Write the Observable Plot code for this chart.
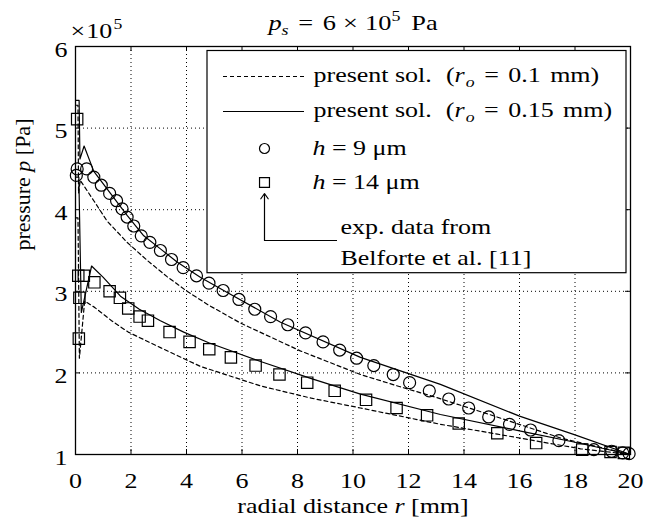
<!DOCTYPE html>
<html><head><meta charset="utf-8">
<script src="https://cdn.jsdelivr.net/npm/d3@7"></script>
<script src="https://cdn.jsdelivr.net/npm/@observablehq/plot@0.6"></script>
<style>
body{margin:0;background:#fff}
svg{display:block}
#chart text{font-family:"Liberation Serif","Times New Roman",Times,serif}
</style>
</head><body><div id="chart"></div>
<script>
// ---- data ----
const xTicks = [0, 2, 4, 6, 8, 10, 12, 14, 16, 18, 20];
const yTicks = [1, 2, 3, 4, 5, 6];

// present solution, r_o = 0.15 mm (solid), h = 9 um
const rSolid9 = [0, 0.13, 0.16, 0.31, 0.66, 1.26, 1.86, 2.46, 3.06, 3.66, 4.51, 5.5, 7.39, 10.27, 13.15, 16.0, 18.0, 20];
const pSolid9 = [5.34, 5.34, 4.62, 4.78, 4.47, 4.20, 3.93, 3.68, 3.52, 3.36, 3.17, 2.98, 2.62, 2.19, 1.86, 1.47, 1.24, 1.0];
// present solution, r_o = 0.15 mm (solid), h = 14 um
const rSolid14 = [0, 0.12, 0.21, 0.58, 1.0, 1.62, 2.3, 3.06, 3.9, 4.8, 6.67, 8.5, 10.27, 13.15, 16.0, 18.0, 20];
const pSolid14 = [4.4, 4.4, 2.74, 3.31, 3.17, 2.94, 2.78, 2.64, 2.50, 2.37, 2.14, 1.93, 1.74, 1.49, 1.29, 1.15, 1.0];
// present solution, r_o = 0.1 mm (dashed), h = 9 um
const rDash9 = [0, 0.09, 0.11, 0.17, 0.66, 1.14, 1.86, 2.58, 3.30, 4.02, 4.8, 5.95, 8.1, 10.27, 11.7, 12.9, 14.83, 17.5, 20];
const pDash9 = [5.28, 5.28, 4.2, 4.36, 4.11, 3.86, 3.60, 3.38, 3.18, 3.00, 2.83, 2.61, 2.27, 1.98, 1.83, 1.71, 1.50, 1.20, 1.0];
// present solution, r_o = 0.1 mm (dashed), h = 14 um
const rDash14 = [0, 0.09, 0.14, 0.33, 0.7, 1.3, 1.9, 3.06, 4.5, 6.67, 8.5, 10.27, 13.15, 15.2, 18.2, 20];
const pDash14 = [3.9, 3.9, 2.18, 2.88, 2.80, 2.64, 2.50, 2.31, 2.08, 1.84, 1.69, 1.57, 1.37, 1.25, 1.07, 1.0];

// experimental data, h = 9 um (circles)
const rExp9 = [0.03, 0.06, 0.40, 0.66, 0.93, 1.23, 1.48, 1.68, 1.86, 2.10, 2.37, 2.68, 3.06, 3.46, 3.88, 4.36, 4.81, 5.32, 5.89, 6.46, 7.03, 7.65, 8.29, 8.92, 9.52, 10.13, 10.75, 11.45, 12.04, 12.75, 13.45, 14.17, 14.89, 15.64, 16.40, 17.42, 18.68, 19.32, 19.72, 19.95];
const pExp9 = [4.42, 4.50, 4.50, 4.40, 4.30, 4.20, 4.11, 4.01, 3.91, 3.80, 3.68, 3.60, 3.50, 3.39, 3.29, 3.19, 3.10, 3.01, 2.90, 2.78, 2.69, 2.59, 2.49, 2.38, 2.28, 2.18, 2.09, 1.98, 1.88, 1.78, 1.68, 1.57, 1.46, 1.37, 1.30, 1.17, 1.06, 1.04, 1.02, 1.01];
// experimental data, h = 14 um (squares)
const rExp14 = [0.06, 0.10, 0.12, 0.14, 0.30, 0.68, 1.23, 1.60, 1.90, 2.31, 2.61, 3.39, 4.11, 4.82, 5.60, 6.49, 7.35, 8.35, 9.34, 10.47, 11.57, 12.67, 13.81, 15.20, 16.60, 18.26, 19.28, 19.76];
const pExp14 = [5.11, 3.19, 2.42, 2.92, 3.19, 3.11, 3.00, 2.92, 2.79, 2.69, 2.64, 2.50, 2.38, 2.29, 2.19, 2.09, 1.98, 1.88, 1.78, 1.67, 1.57, 1.48, 1.38, 1.26, 1.14, 1.06, 1.03, 1.02];

// texts
const titleText = "ps = 6 × 105 Pa";
const expText = "×105";
const xLabel = "radial distance r [mm]";
const yLabel = "pressure p [Pa]";
const legendLabels = ["present sol. (ro = 0.1 mm)", "present sol. (ro = 0.15 mm)", "h = 9 μm", "h = 14 μm", "exp. data from", "Belforte et al. [11]"];

const it = s => `<tspan font-style="italic">${s}</tspan>`;
const roPart = v => `present sol.<tspan dx="12">(</tspan>${it("r")}<tspan font-style="italic" font-size="15" dy="5" dx="1">o</tspan><tspan dy="-5" dx="8">=</tspan><tspan dx="8">${v}</tspan><tspan dx="8">mm)</tspan>`;
const rich = {
  [titleText]: `${it("p")}<tspan font-style="italic" font-size="15" dy="5">s</tspan><tspan dy="-5" dx="8">=</tspan><tspan dx="8">6</tspan><tspan dx="6">×</tspan><tspan dx="6">10</tspan><tspan font-size="15" dy="-9">5</tspan><tspan dy="9" dx="9">Pa</tspan>`,
  [expText]: '×<tspan dx="1">10</tspan><tspan font-size="15" dy="-9" dx="1">5</tspan>',
  [xLabel]: `radial distance ${it("r")} [mm]`,
  [yLabel]: `pressure ${it("p")} [Pa]`,
  [legendLabels[0]]: roPart("0.1"),
  [legendLabels[1]]: roPart("0.15"),
  [legendLabels[2]]: `${it("h")} = 9 μm`,
  [legendLabels[3]]: `${it("h")} = 14 μm`
};

// ---- layout ----
const W = 660, H = 525, ML = 75, MR = 30, MT = 46, MB = 71;
const FS = 22;          // glyph height
const STRETCH = 1.18;   // reference text is wider than it is tall
const mmPerPx = 20 / (W - ML - MR);
const pPerPx = 5 / (H - MT - MB);
const X = px => (px - ML) * mmPerPx;      // pixel -> data (annotation layout)
const Y = py => 6 - (py - MT) * pPerPx;

const rows = (rs, ps) => rs.map((r, i) => ({r, p: ps[i]}));
const gridX = xTicks.slice(1, -1), gridY = yTicks.slice(1, -1);
const tl = 5;
const txt = {fontSize: FS, fill: "black"};

const chart = Plot.plot({
  width: W, height: H,
  marginLeft: ML, marginRight: MR, marginTop: MT, marginBottom: MB,
  x: {domain: [0, 20], axis: null},
  y: {domain: [1, 6], axis: null},
  style: {background: "white", overflow: "visible", fontFamily: "Liberation Serif"},
  marks: [
    // grid
    Plot.ruleX(gridX, {x: d => d, stroke: "black", strokeWidth: 1, strokeDasharray: "1,3"}),
    Plot.ruleY(gridY, {y: d => d, stroke: "black", strokeWidth: 1, strokeDasharray: "1,3"}),
    // inward ticks
    Plot.ruleX(xTicks, {x: d => d, y1: 1, y2: 1 + tl * pPerPx, stroke: "black"}),
    Plot.ruleX(xTicks, {x: d => d, y1: 6, y2: 6 - tl * pPerPx, stroke: "black"}),
    Plot.ruleY(yTicks, {y: d => d, x1: 0, x2: tl * mmPerPx, stroke: "black"}),
    Plot.ruleY(yTicks, {y: d => d, x1: 20, x2: 20 - tl * mmPerPx, stroke: "black"}),
    // curves
    Plot.line(rows(rDash9, pDash9), {x: "r", y: "p", stroke: "black", strokeWidth: 1.2, strokeDasharray: "4,3"}),
    Plot.line(rows(rDash14, pDash14), {x: "r", y: "p", stroke: "black", strokeWidth: 1.2, strokeDasharray: "4,3"}),
    Plot.line(rows(rSolid9, pSolid9), {x: "r", y: "p", stroke: "black", strokeWidth: 1.2}),
    Plot.line(rows(rSolid14, pSolid14), {x: "r", y: "p", stroke: "black", strokeWidth: 1.2}),
    // experimental points
    Plot.dot(rows(rExp9, pExp9), {x: "r", y: "p", r: 6, stroke: "black", fill: "none", strokeWidth: 1.2}),
    Plot.dot(rows(rExp14, pExp14), {x: "r", y: "p", r: 6.4, symbol: "square", stroke: "black", fill: "none", strokeWidth: 1.2}),
    // tick labels
    Plot.text(xTicks, {x: d => d, y: 1, dy: 26, text: d => String(d), ...txt}),
    Plot.text(yTicks, {x: 0, y: d => d, dx: -8, dy: 3, textAnchor: "end", text: d => String(d), ...txt}),
    Plot.text([expText], {x: 0, y: 6, dx: -5, dy: -16, textAnchor: "start", text: d => d, ...txt}),
    // titles
    Plot.text([titleText], {frameAnchor: "top", lineAnchor: "middle", dy: -24, text: d => d, ...txt}),
    Plot.text([xLabel], {frameAnchor: "bottom", lineAnchor: "middle", dy: 51, text: d => d, ...txt}),
    Plot.text([yLabel], {frameAnchor: "left", lineAnchor: "middle", dx: -53, rotate: -90, text: d => d, ...txt}),
    // legend
    Plot.rect([0], {x1: X(207), x2: X(626), y1: Y(272.7), y2: Y(50.5), fill: "white", stroke: "black", strokeWidth: 1.2}),
    Plot.ruleY([Y(76)], {y: d => d, x1: X(223), x2: X(304), stroke: "black", strokeWidth: 1.2, strokeDasharray: "4,3"}),
    Plot.ruleY([Y(111)], {y: d => d, x1: X(223), x2: X(304), stroke: "black", strokeWidth: 1.2}),
    Plot.dot([0], {x: X(264), y: Y(148), r: 5, stroke: "black", fill: "none", strokeWidth: 1.2}),
    Plot.dot([0], {x: X(264), y: Y(182), r: 5.6, symbol: "square", stroke: "black", fill: "none", strokeWidth: 1.2}),
    Plot.ruleY([Y(240)], {y: d => d, x1: X(264), x2: X(337), stroke: "black", strokeWidth: 1.2}),
    Plot.arrow([0], {x1: X(264), y1: Y(240), x2: X(264), y2: Y(193), stroke: "black", strokeWidth: 1.2, headLength: 8, headAngle: 70}),
    Plot.text([legendLabels[0]], {x: X(313), y: Y(74), textAnchor: "start", text: d => d, ...txt}),
    Plot.text([legendLabels[1]], {x: X(313), y: Y(109), textAnchor: "start", text: d => d, ...txt}),
    Plot.text([legendLabels[2]], {x: X(312), y: Y(147), textAnchor: "start", text: d => d, ...txt}),
    Plot.text([legendLabels[3]], {x: X(312), y: Y(181), textAnchor: "start", text: d => d, ...txt}),
    Plot.text([legendLabels[4]], {x: X(340), y: Y(226), textAnchor: "start", text: d => d, ...txt}),
    Plot.text([legendLabels[5]], {x: X(340), y: Y(257), textAnchor: "start", text: d => d, ...txt}),
    // frame
    Plot.frame({stroke: "black", strokeWidth: 1.3})
  ]
});

document.getElementById("chart").appendChild(chart);
for (const t of chart.querySelectorAll("text")) {
  const k = t.textContent;
  if (rich[k]) t.innerHTML = rich[k];
  if (k !== yLabel) {
    const w = t.getBBox().width;
    if (w > 0) {
      t.setAttribute("textLength", (w * STRETCH).toFixed(1));
      t.setAttribute("lengthAdjust", "spacingAndGlyphs");
    }
  }
}
</script>
</body></html>
